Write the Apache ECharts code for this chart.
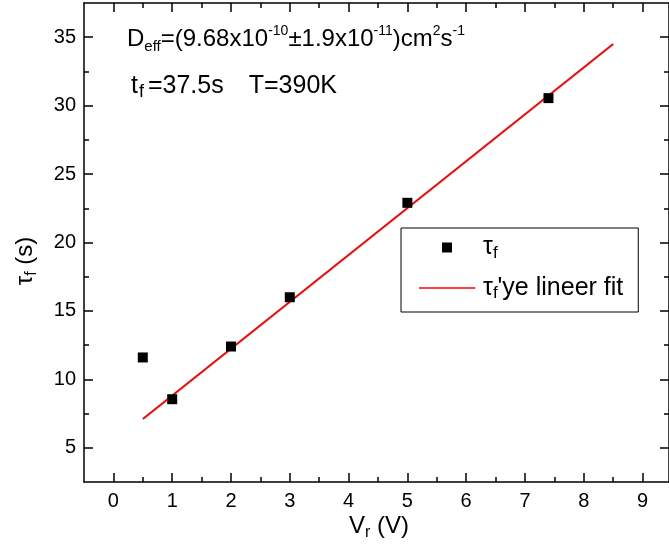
<!DOCTYPE html>
<html><head><meta charset="utf-8">
<script src="https://cdn.jsdelivr.net/npm/echarts@6/dist/echarts.min.js"></script>
<style>html,body{margin:0;padding:0;background:#fff}#c{width:669px;height:551px}</style>
</head><body><div id="c"></div>
<script>
var xTicks = [0,1,2,3,4,5,6,7,8,9];
var xMinor = [0.5,1.5,2.5,3.5,4.5,5.5,6.5,7.5,8.5];
var yTicks = [5,10,15,20,25,30,35];
var yMinor = [7.5,12.5,17.5,22.5,27.5,32.5];
var vr = [0.5, 1, 2, 3, 5, 7.4];
var tauF = [11.6, 8.55, 12.4, 16.0, 22.9, 30.55];
var fitX = [0.5, 8.5];
var fitY = [7.1, 34.5];

var FF = '"Liberation Sans", Arial, sans-serif';
var chart = echarts.init(document.getElementById('c'), null, {renderer:'canvas'});
var lineStyle = {color:'#000', width:1.5};
function xAx(pos, vals, len, labels, showLine){
  return {type:'value', position:pos, min:-0.5, max:9.45,
    axisLine:{show:showLine, onZero:false, lineStyle:lineStyle},
    axisTick:{show:true, inside:true, length:len, customValues:vals, lineStyle:lineStyle},
    axisLabel:{show:labels, customValues:vals, margin:9, color:'#000', fontSize:20, fontFamily:FF},
    splitLine:{show:false}};
}
function yAx(pos, vals, len, labels, showLine){
  return {type:'value', position:pos, min:2.5, max:37.5,
    axisLine:{show:showLine, onZero:false, lineStyle:lineStyle},
    axisTick:{show:true, inside:true, length:len, customValues:vals, lineStyle:lineStyle},
    axisLabel:{show:labels, customValues:vals, margin:8, color:'#000', fontSize:20, fontFamily:FF},
    splitLine:{show:false}};
}
var fitData = fitX.map(function(x,i){return [x, fitY[i]];});
var ptData = vr.map(function(x,i){return [x, tauF[i]];});

var rich1 = {
  n:{fontSize:24, fontFamily:FF, lineHeight:30, fill:'#000'},
  sub:{fontSize:15, fontFamily:FF, lineHeight:17, verticalAlign:'bottom', fill:'#000'},
  sup:{fontSize:14, fontFamily:FF, lineHeight:13, verticalAlign:'top', fill:'#000'}
};
var rich2 = {
  n:{fontSize:25, fontFamily:FF, lineHeight:30, fill:'#000'},
  gap:{width:25, lineHeight:30},
  sub:{fontSize:18, fontFamily:FF, lineHeight:16, verticalAlign:'bottom', fill:'#000', padding:[0,4,0,1]}
};
var rich3 = {
  n:{fontSize:24, fontFamily:FF, lineHeight:30, fill:'#000'},
  sub:{fontSize:16, fontFamily:FF, lineHeight:15, verticalAlign:'bottom', fill:'#000'}
};
var richL = {
  n:{fontSize:25, fontFamily:FF, lineHeight:28, color:'#000'},
  sub:{fontSize:17, fontFamily:FF, lineHeight:14, verticalAlign:'bottom', color:'#000'}
};

chart.setOption({
  animation:false,
  backgroundColor:'#fff',
  grid:{left:84, top:3, width:590, height:479, containLabel:false},
  xAxis:[xAx('bottom', xTicks, 9, true, true), xAx('bottom', xMinor, 5, false, false),
         xAx('top', xTicks, 9, false, true), xAx('top', xMinor, 5, false, false)],
  yAxis:[yAx('left', yTicks, 9, true, true), yAx('left', yMinor, 5, false, false),
         yAx('right', yTicks, 9, false, true), yAx('right', yMinor, 5, false, false)],
  legend:{
    left:401, top:228, orient:'vertical', itemWidth:56, itemHeight:10, itemGap:14,
    padding:[7,15,10,18], borderColor:'#000', borderWidth:1, symbolKeepAspect:true,
    data:[{name:'tau', icon:'path://M0,0h10v10h-10z'}, {name:'fit', icon:'path://M0,0h56v1.5h-56z'}],
    formatter:function(n){ return n==='tau' ? '{n|τ}{sub|f}' : '{n|τ}{sub|f}{n|\'ye lineer fit}'; },
    textStyle:{rich:richL, color:'#000', padding:[0,0,0,3]}
  },
  graphic:[
    {type:'text', x:127, y:24, style:{text:'{n|D}{sub|eff}{n|=(9.68x10}{sup|-10}{n|±1.9x10}{sup|-11}{n|)cm}{sup|2}{n|s}{sup|-1}', rich:rich1, fill:'#000'}},
    {type:'text', x:131, y:71, style:{text:'{n|t}{sub|f}{n|=37.5s}{gap|}{n|T=390K}', rich:rich2, fill:'#000'}},
    {type:'text', x:379, y:526, style:{text:'{n|V}{sub|r}{n| (V)}', rich:rich3, fill:'#000', align:'center', verticalAlign:'middle'}},
    {type:'text', x:25, y:261, rotation:Math.PI/2, style:{text:'{n|τ}{sub|f}{n| (s)}', rich:rich3, fill:'#000', align:'center', verticalAlign:'middle'}}
  ],
  series:[
    {name:'tau', type:'scatter', data:ptData, symbol:'rect', symbolSize:10,
     itemStyle:{color:'#000', opacity:1}, xAxisIndex:0, yAxisIndex:0, z:3},
    {name:'fit', type:'line', data:fitData, showSymbol:false, symbol:'none',
     lineStyle:{color:'#ff0000', width:2}, itemStyle:{color:'#ff0000'}, xAxisIndex:0, yAxisIndex:0, z:2}
  ]
});
</script></body></html>
